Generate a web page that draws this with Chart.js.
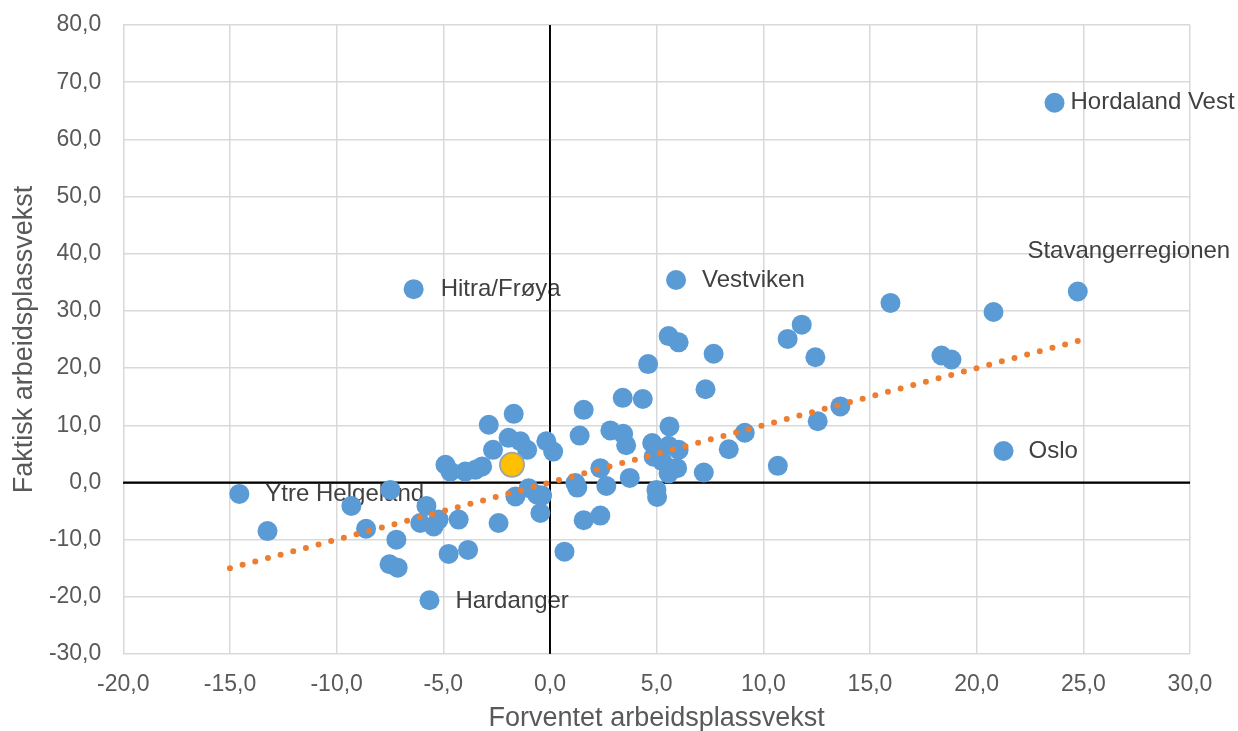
<!DOCTYPE html>
<html>
<head>
<meta charset="utf-8">
<script src="https://cdn.jsdelivr.net/npm/chart.js@4.4.1/dist/chart.umd.min.js"></script>
<style>
  html, body { margin: 0; padding: 0; background: #ffffff; }
  #wrap { width: 1238px; height: 731px; position: relative; }
</style>
</head>
<body>
<div id="wrap"><canvas id="c" width="1238" height="731"></canvas></div>
<script>
// ---- Data ----
const xValues = [23.65, 24.74, 21.26, 5.91, -6.39, -14.56, -5.65,
  20.79, 15.96, 18.35, 18.82, 11.8, 11.14, 12.44, 12.55, 13.61, 10.68, 9.13, 8.38,
  5.56, 6.03, 7.67, 4.6, 7.29, 3.41, 4.35, 1.58, 5.6, 1.39, 2.83, 3.43, 3.57, 4.79,
  5.56, 6.03, 4.86, 5.26, 5.64, 5.96, 5.56, 7.21, 2.36, 3.74, 2.64, 1.19, 1.28, 4.99,
  5.02, 1.58, 2.36, 0.68, -0.17, 0.15, -0.37, -0.45, -1.0, -0.6, -1.62, -1.7, -2.87,
  -1.94, -1.39, -1.07, -2.67, -4.9, -4.67, -3.97, -3.5, -3.18, -2.41, -4.28, -4.75,
  -3.84, -5.79, -6.08, -5.45, -5.22, -7.48, -9.31, -8.62, -7.2, -7.52, -7.14, -13.24];
const yValues = [66.4, 33.4, 5.5, 35.4, 33.8, -2.0, -20.6,
  29.8, 31.4, 22.2, 21.5, 27.6, 25.1, 21.9, 10.7, 13.3, 2.9, 8.7, 5.8,
  25.6, 24.5, 22.5, 20.7, 16.3, 14.8, 14.6, 12.7, 9.8, 8.2, 9.1, 8.5, 6.5, 6.9,
  6.4, 5.7, 4.5, 3.7, 2.5, 2.5, 1.6, 1.75, 2.5, 0.8, -0.6, -0.1, -0.9, -1.3,
  -2.55, -6.6, -5.8, -12.1, 7.2, 5.4, -2.3, -5.35, -1.0, -2.15, -2.45, 12.0, 10.1,
  7.8, 7.2, 5.7, 5.7, 3.1, 1.9, 1.9, 2.2, 2.8, -7.1, -6.5, -12.5,
  -11.8, -4.1, -7.1, -7.7, -6.5, -1.3, -4.1, -8.1, -10.0, -14.3, -14.9, -8.5];
const pointNames = ["Hordaland Vest", "Stavangerregionen", "Oslo", "Vestviken",
  "Hitra/Frøya", "Ytre Helgeland", "Hardanger"];
const highlightX = [-1.78];
const highlightY = [3.1];
const trendX = [-15, 25];
const trendY = [-15, 25];
const xTicks = [-20, -15, -10, -5, 0, 5, 10, 15, 20, 25, 30];
const yTicks = [-30, -20, -10, 0, 10, 20, 30, 40, 50, 60, 70, 80];
const xTitle = "Forventet arbeidsplassvekst";
const yTitle = "Faktisk arbeidsplassvekst";

// ---- Build ----
const toPts = (xs, ys) => xs.map((x, i) => ({ x: x, y: ys[i] }));
const fmt = v => v.toFixed(1).replace('.', ',');
const FONT = '"Liberation Sans", Arial, sans-serif';

const labelStyle = {
  "Hordaland Vest": { dx: 16, dy: 0, align: 'left' },
  "Stavangerregionen": { dx: 51, dy: -40, align: 'center' },
  "Oslo": { dx: 25, dy: 0, align: 'left' },
  "Vestviken": { dx: 26, dy: 0, align: 'left' },
  "Hitra/Frøya": { dx: 27, dy: 0, align: 'left' },
  "Ytre Helgeland": { dx: 26, dy: 0, align: 'left' },
  "Hardanger": { dx: 26, dy: 1, align: 'left' }
};

const labelPlugin = {
  id: 'labelsAndAxes',
  beforeDatasetsDraw(chart) {
    const ctx = chart.ctx;
    const meta = chart.getDatasetMeta(2);
    ctx.save();
    ctx.font = '24px ' + FONT;
    ctx.fillStyle = '#404040';
    ctx.textBaseline = 'middle';
    pointNames.forEach((name, i) => {
      if (!name) return;
      const el = meta.data[i];
      const st = labelStyle[name] || { dx: 26, dy: 0, align: 'left' };
      ctx.textAlign = st.align;
      ctx.fillText(name, el.x + st.dx, el.y + st.dy);
    });
    // zero axes drawn over labels
    const xs = chart.scales.x, ys = chart.scales.y, a = chart.chartArea;
    ctx.strokeStyle = '#000000';
    ctx.lineWidth = 1.75;
    const x0 = xs.getPixelForValue(0), y0 = ys.getPixelForValue(0);
    ctx.beginPath();
    ctx.moveTo(x0, a.top); ctx.lineTo(x0, a.bottom);
    ctx.moveTo(a.left, y0); ctx.lineTo(a.right, y0);
    ctx.stroke();
    ctx.restore();
  }
};

const gridColor = c => (c.tick && c.tick.value === 0) ? '#000000' : '#D9D9D9';
const gridWidth = c => (c.tick && c.tick.value === 0) ? 1.75 : 1.5;

new Chart(document.getElementById('c'), {
  type: 'scatter',
  data: {
    datasets: [
      {
        label: 'highlight',
        data: toPts(highlightX, highlightY),
        backgroundColor: '#FFC000',
        borderColor: '#A5A5A5',
        borderWidth: 2,
        pointRadius: 12,
        pointHoverRadius: 12
      },
      {
        label: 'trend',
        type: 'line',
        data: toPts(trendX, trendY),
        borderColor: '#ED7D31',
        borderWidth: 6,
        borderDash: [0, 13.1],
        borderCapStyle: 'round',
        pointRadius: 0,
        fill: false,
        tension: 0
      },
      {
        label: 'regioner',
        data: toPts(xValues, yValues),
        backgroundColor: '#5B9BD5',
        borderWidth: 0,
        pointRadius: 10,
        pointHoverRadius: 10
      }
    ]
  },
  options: {
    responsive: false,
    animation: false,
    events: [],
    layout: { padding: { top: 25, right: 48, left: 0, bottom: 0 } },
    plugins: { legend: { display: false }, tooltip: { enabled: false } },
    scales: {
      x: {
        type: 'linear',
        min: -20, max: 30,
        afterBuildTicks: s => { s.ticks = xTicks.map(v => ({ value: v })); },
        afterFit: s => { s.height = 77; s.paddingLeft = 0; s.paddingRight = 0; },
        grid: { color: gridColor, lineWidth: gridWidth, drawTicks: false },
        border: { display: false },
        ticks: {
          callback: v => fmt(v),
          color: '#595959',
          font: { family: FONT, size: 23 },
          padding: 17,
          maxRotation: 0,
          autoSkip: false
        },
        title: {
          display: true,
          text: xTitle,
          color: '#595959',
          font: { family: FONT, size: 27, lineHeight: 1 },
          padding: { top: 0, bottom: -1 }
        }
      },
      y: {
        type: 'linear',
        min: -30, max: 80,
        afterBuildTicks: s => { s.ticks = yTicks.map(v => ({ value: v })); },
        afterFit: s => { s.width = 123.3; s.paddingTop = 0; s.paddingBottom = 0; },
        grid: { color: gridColor, lineWidth: gridWidth, drawTicks: false },
        border: { display: false },
        ticks: {
          callback: v => fmt(v),
          color: '#595959',
          font: { family: FONT, size: 23 },
          padding: 22,
          autoSkip: false
        },
        title: {
          display: true,
          text: yTitle,
          color: '#595959',
          font: { family: FONT, size: 27, lineHeight: 1.2 },
          padding: { top: 8, bottom: 0 }
        }
      }
    }
  },
  plugins: [labelPlugin]
});
</script>
</body>
</html>
